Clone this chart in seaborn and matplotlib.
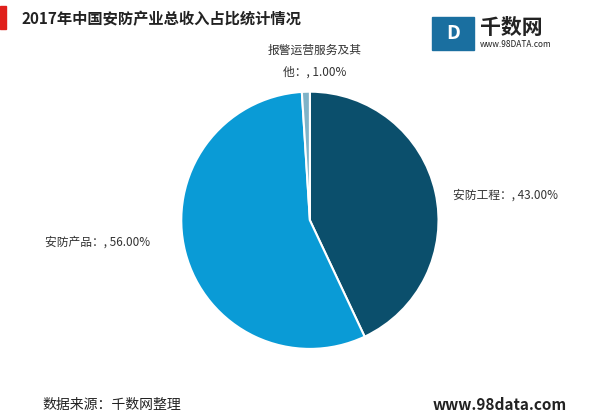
import matplotlib
matplotlib.use("Agg")
import matplotlib.pyplot as plt
import seaborn as sns

sns.set_theme(style="white")
plt.rcParams['font.family'] = ['Noto Sans CJK SC', 'DejaVu Sans']

labels = ["安防工程", "安防产品", "报警运营服务及其他"]
values = [43.0, 56.0, 1.0]
colors = ["#0b4f6c", "#0a9bd6", "#7fb3c8"]

fig = plt.figure(figsize=(6, 4.2), dpi=100)
ax = fig.add_axes([0.300, 0.166, 0.433, 0.619])
ax.pie(values, colors=colors, startangle=90, counterclock=False,
       wedgeprops=dict(edgecolor="white", linewidth=1.5))
ax.set_xlim(-1.01, 1.01)
ax.set_ylim(-1.01, 1.01)
ax.set_aspect("equal")

fig.text(0.755, 0.536, "安防工程：, 43.00%", fontsize=8.5, color="#333333", va="center")
fig.text(0.075, 0.424, "安防产品：, 56.00%", fontsize=8.5, color="#333333", va="center")
fig.text(0.525, 0.88, "报警运营服务及其", fontsize=8.5, color="#333333", ha="center", va="center")
fig.text(0.525, 0.828, "他：, 1.00%", fontsize=8.5, color="#333333", ha="center", va="center")

fig.patches.append(plt.Rectangle((0.0, 0.93), 0.01, 0.055, transform=fig.transFigure,
                                 color="#e0201b", figure=fig))
fig.text(0.035, 0.955, "2017年中国安防产业总收入占比统计情况", fontsize=11, fontweight="bold",
         color="#222222", va="center")
fig.text(0.80, 0.935, "千数网", fontsize=15, fontweight="bold", color="#222222", va="center")
fig.text(0.80, 0.895, "www.98DATA.com", fontsize=6, color="#222222", va="center")
fig.patches.append(plt.Rectangle((0.72, 0.88), 0.07, 0.08, transform=fig.transFigure,
                                 color="#1a6fa0", figure=fig))
fig.text(0.755, 0.92, "D", fontsize=14, fontweight="bold", color="white", ha="center", va="center")

fig.text(0.07, 0.035, "数据来源：千数网整理", fontsize=10, color="#222222", va="center")
fig.text(0.945, 0.035, "www.98data.com", fontsize=11, fontweight="bold", color="#222222",
         ha="right", va="center")

fig.savefig("out.png", dpi=100, facecolor="white")
